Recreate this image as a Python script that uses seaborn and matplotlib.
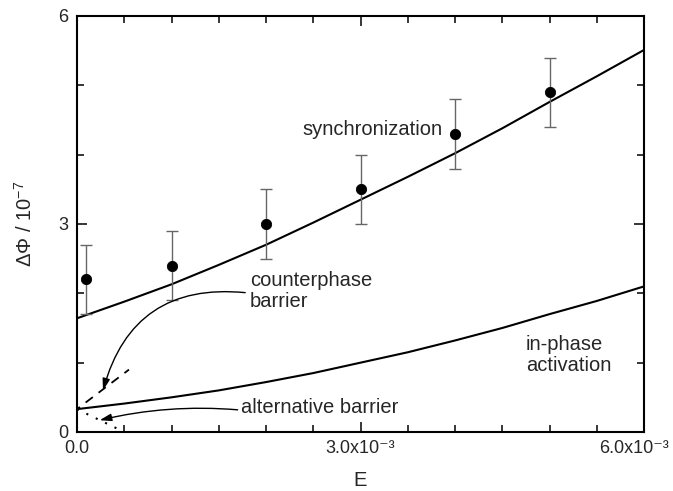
import numpy as np
import pandas as pd
import matplotlib
matplotlib.use("Agg")
import matplotlib.pyplot as plt
import matplotlib.transforms as mtransforms
import seaborn as sns
from matplotlib.ticker import MultipleLocator, FixedLocator, FixedFormatter

# ---- data ----
E_points = [0.1e-3, 1.0e-3, 2.0e-3, 3.0e-3, 4.0e-3, 5.0e-3]
dphi_points = [2.2, 2.4, 3.0, 3.5, 4.3, 4.9]
dphi_err = [0.5, 0.5, 0.5, 0.5, 0.5, 0.5]

E_curve = [0.0, 0.5e-3, 1.0e-3, 1.5e-3, 2.0e-3, 2.5e-3, 3.0e-3,
           3.5e-3, 4.0e-3, 4.5e-3, 5.0e-3, 5.5e-3, 6.0e-3]
sync_curve = [1.64, 1.88, 2.13, 2.41, 2.70, 3.02, 3.35,
              3.68, 4.02, 4.38, 4.76, 5.13, 5.51]
inphase_curve = [0.33, 0.41, 0.50, 0.60, 0.72, 0.85, 1.00,
                 1.15, 1.32, 1.50, 1.70, 1.89, 2.10]

E_counter = [0.0, 0.55e-3]
counter_barrier = [0.33, 0.90]
E_alt = [0.0, 0.5e-3]
alt_barrier = [0.33, 0.0]

x_tick_values = [0.0, 3.0e-3, 6.0e-3]
x_tick_labels = ["0.0", "3.0x10⁻³", "6.0x10⁻³"]
y_tick_values = [0, 3, 6]
y_tick_labels = ["0", "3", "6"]

# ---- style ----
sns.set_style("ticks")
plt.rcParams["font.family"] = ["Liberation Sans", "DejaVu Sans"]
plt.rcParams["mathtext.fontset"] = "custom"
plt.rcParams["mathtext.rm"] = "Liberation Sans"
plt.rcParams["mathtext.it"] = "Liberation Sans:italic"
plt.rcParams["mathtext.bf"] = "Liberation Sans:bold"

fig = plt.figure(figsize=(6.73, 4.91), dpi=100)
ax = fig.add_axes([77 / 673, 1 - 432 / 491, (644 - 77) / 673, (432 - 16) / 491])

df_curve = pd.DataFrame({"E": E_curve, "sync": sync_curve, "inphase": inphase_curve})
sns.lineplot(data=df_curve, x="E", y="sync", ax=ax, color="black", lw=1.5)
sns.lineplot(data=df_curve, x="E", y="inphase", ax=ax, color="black", lw=1.5)
sns.lineplot(x=E_counter, y=counter_barrier, ax=ax, color="black", lw=1.3,
             linestyle=(3, (5, 4)))
sns.lineplot(x=E_alt, y=alt_barrier, ax=ax, color="black", lw=1.5,
             linestyle=(0, (1, 4)))

ax.errorbar(E_points, dphi_points, yerr=dphi_err, fmt="none", ecolor="#666666",
            elinewidth=1.0, capsize=4, capthick=1.0, zorder=3)
sns.scatterplot(x=E_points, y=dphi_points, ax=ax, color="black", s=55,
                edgecolor="black", zorder=4)

ax.set_xlim(0, 6e-3)
ax.set_ylim(0, 6)

ax.xaxis.set_major_locator(FixedLocator(x_tick_values))
ax.xaxis.set_major_formatter(FixedFormatter(x_tick_labels))
ax.xaxis.set_minor_locator(MultipleLocator(0.5e-3))
ax.yaxis.set_major_locator(FixedLocator(y_tick_values))
ax.yaxis.set_major_formatter(FixedFormatter(y_tick_labels))
ax.yaxis.set_minor_locator(MultipleLocator(1))

ax.tick_params(which="both", direction="in", top=True, right=True,
               labelsize=13, width=1.1, color="black")
ax.tick_params(which="major", length=7, pad=6)
ax.tick_params(which="minor", length=5)
for sp in ax.spines.values():
    sp.set_linewidth(1.5)
    sp.set_color("black")

# keep the last x tick label inside the figure
last_label = ax.xaxis.get_major_ticks()[-1].label1
last_label.set_transform(last_label.get_transform() +
                         mtransforms.ScaledTranslation(-7 / 72, 0, fig.dpi_scale_trans))

ax.set_xlabel("E", fontsize=14.5)
ax.set_ylabel("ΔΦ / 10$^{-7}$", fontsize=14.5)
ax.xaxis.set_label_coords(0.5, -0.093)
ax.yaxis.set_label_coords(-0.073, 0.5)

fs = 14.5
ax.text(2.39e-3, 4.36, "synchronization", fontsize=fs, ha="left", va="center")
ax.text(1.83e-3, 2.03, "counterphase\nbarrier", fontsize=fs, ha="left", va="center",
        linespacing=1.15)
ax.text(4.75e-3, 1.11, "in-phase\nactivation", fontsize=fs, ha="left", va="center",
        linespacing=1.15)
ax.text(1.74e-3, 0.35, "alternative barrier", fontsize=fs, ha="left", va="center")

ax.annotate("", xy=(0.275e-3, 0.60), xytext=(1.78e-3, 2.01),
            arrowprops=dict(arrowstyle="-|>,head_length=0.7,head_width=0.22",
                            color="black", lw=1.0, shrinkA=0, shrinkB=0,
                            connectionstyle="arc3,rad=0.42"))
ax.annotate("", xy=(0.24e-3, 0.17), xytext=(1.70e-3, 0.32),
            arrowprops=dict(arrowstyle="-|>,head_length=0.7,head_width=0.22",
                            color="black", lw=1.0, shrinkA=0, shrinkB=0,
                            connectionstyle="arc3,rad=0.08"))

fig.savefig("out.png", dpi=100)
